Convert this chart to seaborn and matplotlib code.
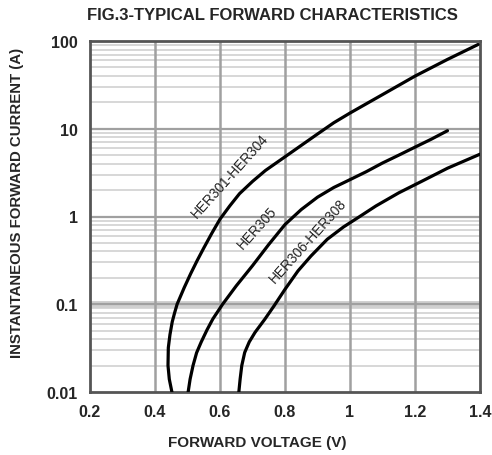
import numpy as np
import pandas as pd
import matplotlib.pyplot as plt
import seaborn as sns

# curves (voltage in V, current in A)
v_301 = [0.452, 0.444, 0.440, 0.441, 0.446, 0.453, 0.460, 0.468, 0.490, 0.510, 0.530,
         0.550, 0.575, 0.600, 0.630, 0.660, 0.700, 0.740, 0.800, 0.850, 0.900, 0.950,
         1.000, 1.100, 1.200, 1.300, 1.394]
i_301 = [0.01, 0.014, 0.02, 0.032, 0.045, 0.063, 0.079, 0.10, 0.155, 0.224, 0.316,
         0.437, 0.646, 0.933, 1.32, 1.82, 2.51, 3.35, 4.79, 6.46, 8.71, 11.7,
         15.1, 24.5, 39.8, 61.7, 91.2]

v_305 = [0.502, 0.508, 0.517, 0.528, 0.542, 0.560, 0.578, 0.608, 0.650, 0.700, 0.750,
         0.800, 0.850, 0.900, 0.950, 1.000, 1.050, 1.100, 1.150, 1.200, 1.250, 1.300]
i_305 = [0.01, 0.014, 0.02, 0.028, 0.037, 0.051, 0.068, 0.10, 0.162, 0.275, 0.48,
         0.81, 1.2, 1.66, 2.14, 2.63, 3.24, 4.07, 5.0, 6.17, 7.6, 9.5]

v_306 = [0.658, 0.662, 0.667, 0.676, 0.690, 0.708, 0.738, 0.766, 0.800, 0.840, 0.880,
         0.930, 0.980, 1.030, 1.080, 1.150, 1.220, 1.300, 1.400]
i_306 = [0.01, 0.0141, 0.02, 0.0282, 0.0372, 0.0479, 0.0676, 0.0955, 0.148, 0.24, 0.355,
         0.55, 0.76, 1.0, 1.32, 1.86, 2.51, 3.55, 5.13]

names = ["HER301-HER304", "HER305", "HER306-HER308"]
x_ticks = [0.2, 0.4, 0.6, 0.8, 1.0, 1.2, 1.4]
x_labels = ["0.2", "0.4", "0.6", "0.8", "1", "1.2", "1.4"]
y_ticks = [0.01, 0.1, 1, 10, 100]
y_labels = ["0.01", "0.1", "1", "10", "100"]

df = pd.concat([
    pd.DataFrame({"V": v_301, "I": i_301, "dev": names[0]}),
    pd.DataFrame({"V": v_305, "I": i_305, "dev": names[1]}),
    pd.DataFrame({"V": v_306, "I": i_306, "dev": names[2]}),
])

sns.set_style("white")
plt.rcParams["font.family"] = ["Liberation Sans", "DejaVu Sans"]

fig = plt.figure(figsize=(4.92, 4.56), dpi=100)
ax = fig.add_axes([90 / 492, 1 - 393 / 456, 390 / 492, 351 / 456])

ax.set_yscale("log")
ax.set_xlim(0.2, 1.4)
ax.set_ylim(0.01, 100)

# grid like the printed log paper
for d in [0.01, 0.1, 1, 10]:
    for m in range(2, 10):
        ax.axhline(d * m, color="#d4d4d4", lw=1.3, zorder=0)
for d in [0.1, 1, 10]:
    ax.axhline(d, color="#a0a0a0", lw=1.6, zorder=0.5)
ax.axhline(0.1, color="#d0d0d0", lw=5, zorder=0.2)
for xv in x_ticks[1:-1]:
    ax.axvline(xv, color="#a0a0a0", lw=1.8, zorder=0.5)

sns.lineplot(data=df, x="V", y="I", hue="dev", units="dev", estimator=None,
             sort=False, palette=["black"] * 3, lw=2.3, legend=False, ax=ax, zorder=3)

ax.set_xticks(x_ticks)
ax.set_xticklabels(x_labels)
ax.set_yticks(y_ticks)
ax.set_yticklabels(y_labels)
ax.minorticks_off()
ax.tick_params(length=0, labelsize=11.5)
ax.tick_params(axis="x", pad=9)
ax.tick_params(axis="y", pad=9)
for t in ax.get_xticklabels() + ax.get_yticklabels():
    t.set_fontweight("bold")

for s in ax.spines.values():
    s.set_color("#555555")
    s.set_linewidth(2)

ax.set_xlabel("FORWARD VOLTAGE (V)", fontsize=11, fontweight="bold")
ax.xaxis.set_label_coords(0.428, -0.123)
ax.set_ylabel("INSTANTANEOUS FORWARD CURRENT (A)", fontsize=10.8, fontweight="bold")
ax.yaxis.set_label_coords(-0.169, 0.541)

fig.text(272 / 492, 1 - 16 / 456, "FIG.3-TYPICAL FORWARD CHARACTERISTICS",
         ha="center", va="center", fontsize=12, fontweight="bold")

# curve labels
ax.text(0.631, 2.92, names[0], rotation=48, ha="center", va="center", fontsize=9.8, color="#222222")
ax.text(0.714, 0.75, names[1], rotation=48, ha="center", va="center", fontsize=9.8, color="#222222")
ax.text(0.871, 0.53, names[2], rotation=48, ha="center", va="center", fontsize=9.8, color="#222222")

fig.savefig("out.png", dpi=100)
